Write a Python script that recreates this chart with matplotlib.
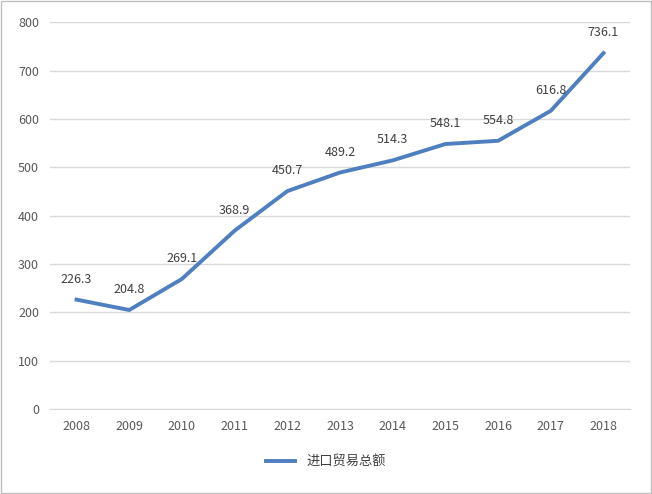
import numpy as np
import matplotlib.pyplot as plt

plt.rcParams['font.family'] = ['Noto Sans CJK SC', 'DejaVu Sans']

years = ["2008", "2009", "2010", "2011", "2012", "2013", "2014", "2015", "2016", "2017", "2018"]
values = [226.3, 204.8, 269.1, 368.9, 450.7, 489.2, 514.3, 548.1, 554.8, 616.8, 736.1]
series_name = "进口贸易总额"

fig = plt.figure(figsize=(6.52, 4.94), dpi=100)
fig.patches.append(plt.Rectangle((0.002, 0.002), 0.996, 0.996, transform=fig.transFigure,
                                 fill=False, edgecolor="#bfbfbf", linewidth=1))
ax = fig.add_axes([0.077, 0.172, 0.889, 0.783])

x = np.arange(len(years))
ax.plot(x, values, color="#4F7FBE", linewidth=2.8, label=series_name)
for xi, v in zip(x, values):
    ax.annotate(f"{v}", (xi, v), xytext=(0, 10), textcoords="offset points",
                ha="center", va="bottom", fontsize=9, color="#404040")

ax.set_xlim(-0.5, len(years) - 0.5)
ax.set_ylim(0, 800)
ax.set_yticks(range(0, 801, 100))
ax.set_xticks(x)
ax.set_xticklabels(years)
ax.grid(axis="y", color="#d9d9d9", linewidth=1)
ax.set_axisbelow(True)
for s in ["top", "right", "left"]:
    ax.spines[s].set_visible(False)
ax.spines["bottom"].set_color("#d9d9d9")
ax.tick_params(length=0, labelsize=9, colors="#595959", pad=8)

fig.legend(loc="center", bbox_to_anchor=(0.5, 0.065), frameon=False, fontsize=9.5,
           handlelength=2.2, labelcolor="#404040")

fig.savefig("out.png", dpi=100)
